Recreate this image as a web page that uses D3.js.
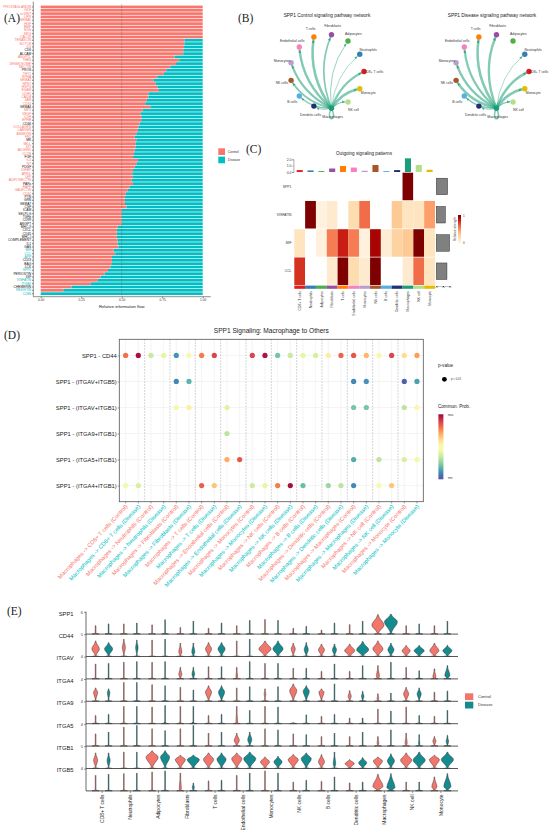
<!DOCTYPE html>
<html>
<head>
<meta charset="utf-8">
<script src="https://cdn.jsdelivr.net/npm/d3@7"></script>
<style>
  body { margin: 0; background: #fff; }
  svg { display: block; }
</style>
</head>
<body>
<script>
// ---------- data ----------

// (A) relative information flow, share of Control per pathway
const flowPathways = [
  "PROSTAGLANDIN","GDF","ncWNT","LIFR","SEMA5","HGF","BMP","EDN","NRG","CALCR",
  "TENASCIN","NOTCH","IL6","CD6","ALCAM","ANGPTL","THBS","DESMOSOME","NECTIN","PROS",
  "THY1","EPHA","SEMA3","NPR1","HSPG","ESAM","CDH5","CADM","JAM","CD34",
  "SEMA4","MPZ","VEGF","CDH","EPHB","CD46","COLLAGEN","LAMININ","ANNEXIN","FN1",
  "MK","SELL","KIT","ADGRE5","CLDN","FGF","IL4","NT","PDGF","IGFBP",
  "APRIL","LEP","ADIPONECTIN","PARs","BAFF","GALECTIN","CD40","PTN","GRN","SEMA7",
  "CSF","ICAM","SELPLG","TGFb","CD99","ANGPT","MHC-II","CXCL","CD45","MHC-I",
  "COMPLEMENT","IL1","GAS","MIF","CCL","APP","CD23","BAG","LCK","SPP1",
  "PERIOSTIN","IGF","VISFATIN","ITGB2","CHEMERIN","RESISTIN","CD86"
];
const flowControl = [
  1, 1, 1, 1, 1, 1, 1, 1, 1, 1,
  .887, .887, .885, .88, .88, .826, .855, .835, .8, .775,
  .76, .72, .695, .71, .72, .73, .665, .665, .655, .645,
  .68, .63, .615, .625, .62, .61, .605, .6, .59, .58,
  .59, .585, .585, .58, .575, .57, .6, .59, .58, .57,
  .565, .57, .56, .57, .55, .535, .525, .52, .52, .52,
  .53, .5, .5, .5, .5, .5, .475, .47, .47, .47,
  .475, .475, .48, .45, .46, .44, .44, .44, .43, .415,
  .395, .37, .35, .31, .19, .14, 0
];
// C = enriched in Control, D = enriched in Disease, N = not significant
const flowSignif = (
  "CCCCCCCCCC" + "CCCNNCCCCN" + "CCCCCCCCCC" + "NCCCCNCCCC" + "NCCCCNCCNC" +
  "CCCNCCCNNN" + "NNNNNNNNNN" + "NNNDDDNNND" + "NNDDNDD").split("");

// (B) / (C) cell groups
const cellTypes = ["CD8+ T cells", "Neutrophils", "Adipocytes", "Fibroblasts", "T cells",
  "Endothelial cells", "Monocytes", "NK cells", "B cells", "Dendritic cells",
  "Macrophages", "NK cell", "Monocyte"];
// SPP1 edge weight from Macrophages to each group
const spp1Control = [2.5, 0.8, 1.0, 2.0, 3.0, 2.8, 2.6, 2.2, 1.5, 1.0, 1.8, 1.2, 3.0];
const spp1Disease = [3.0, 0.8, 0, 2.8, 3.0, 2.6, 2.8, 2.8, 1.8, 1.0, 2.0, 1.3, 3.2];

// (C) outgoing signalling patterns
const patternPathways = ["SPP1", "VISFATIN", "MIF", "CCL"];
const patternStrength = [
  [0, 0, 0, 0, 0, 0, 0, 0, 0, 0, 1, 0, 0],
  [0, 1, .05, .1, 0, .2, .6, 0, 0, .3, .15, .15, .45],
  [.15, 0, .05, .55, .8, .55, .05, .9, .08, .25, .3, 1, .15],
  [.75, 0, 0, .1, 1, .2, .1, 1, 0, 0, .1, .6, .15]
];
const outgoingTotals = [0.3, 0.25, 0.15, 0.55, 0.95, 0.7, 0.2, 1.1, 0.15, 0.3, 2.15, 1.1, 0.35];
const pathwayTotals = [0.85, 0.68, 1.0, 0.8];

// (D) SPP1 ligand-receptor pairs, Macrophages -> others
const lrPairs = ["SPP1 - CD44", "SPP1 - (ITGAV+ITGB5)", "SPP1 - (ITGAV+ITGB1)",
  "SPP1 - (ITGA9+ITGB1)", "SPP1 - (ITGA5+ITGB1)", "SPP1 - (ITGA4+ITGB1)"];
const targetGroups = ["CD8+ T cells", "Neutrophils", "Fibroblasts", "T cells", "Endothelial cells",
  "Monocytes", "NK cells", "B cells", "Dendritic cells", "Macrophages", "NK cell", "Monocyte"];
const conditions = ["Control", "Disease"];
const _ = null;
// communication probability scaled 0 (min) .. 1 (max), columns = target x condition
const commProb = [
  [.8, .98, .35, .42, .12, .5, .78, .88, _, _, .88, .97, .22, .35, .42, .38, .55, .82, .85, .68, .48, .88, .6, .72],
  [_, _, _, _, .1, .18, _, _, _, _, _, _, _, _, _, _, _, _, .1, .12, _, _, .03, .14],
  [_, _, _, _, .45, .55, _, _, .4, _, _, _, _, _, _, _, _, _, .22, .22, _, _, .33, .52],
  [_, _, _, _, _, _, _, _, .33, _, _, _, _, _, _, _, _, _, _, _, _, _, _, _],
  [_, _, _, _, _, _, _, _, .7, .85, _, _, _, _, _, _, _, _, .16, _, .33, _, .38, .45],
  [.45, .38, _, _, _, _, .83, .65, _, _, .36, .42, .78, .98, .2, _, .28, .33, .1, _, .48, .65, _, _]
];

// (E) stacked violins: per gene, Control/Disease pairs for each cell group
const genes = ["SPP1", "CD44", "ITGAV", "ITGA4", "ITGA9", "ITGA5", "ITGB1", "ITGB5"];
const geneMax = [6, 5, 4, 4, 4, 4, 5, 4];
// top of violin (fraction of the row max)
const vlnTop = [
  [.38,.46, .46,.5, .42,.65, .3,.58, .26,.5, .38,.62, .66,.62, .26,.35, .18,.5, .43,.58, .88,.9, .38,.46, .38,.58],
  [.7,.63, .78,.74, .74,.78, .6,.6, .63,.63, .7,.78, .7,.7, .6,.63, .56,.56, .56,.68, .7,.6, .5,.5, .6,.5],
  [.67,.7, .75,.78, .75,.78, .52,.52, .55,.55, .52,.78, .7,.7, .48,.48, .34,.67, .34,.6, .6,.75, .52,.37, .45,.6],
  [.6,.56, .85,.85, .75,.7, .63,.51, .7,.7, .6,.66, .56,.66, .78,.7, .56,.78, .48,.45, .34,.37, .63,.6, .41,.46],
  [.37,.42, .78,.78, .75,.82, .78,.78, .37,.42, .78,.6, .78,.75, .05,.4, .33,.42, .25,.25, .66,.57, .75,.37, .33,.6],
  [.55,.63, .85,.93, .78,.7, .78,.93, .58,.63, .58,.63, .78,.73, .55,.52, .43,.58, .43,.63, .43,.73, .58,.52, .43,.48],
  [.7,.7, .74,.74, .8,.8, .6,.6, .7,.7, .7,.74, .52,.55, .63,.7, .63,.74, .4,.49, .52,.66, .7,.74, .6,.74],
  [.7,.75, .78,.8, .85,.9, .8,.35, .45,.48, .7,.8, .9,.8, .4,.48, .43,.63, .36,.4, .75,.78, .4,.4, .63,.78]
];
// widest half-width of the expressing bulk (px), 0 = only a spike
const vlnWidth = [
  [0,0, 0,0, 0,0, 0,0, 0,0, 0,0, 0,0, 0,0, 0,0, 0,0, 6,6.4, 0,0, 0,0],
  [3.7,4, 1.5,1.2, 0,0, 1.5,1.5, 3,3.5, 0,0, 6,5, 2,2, 3,2, 5,6, 5,3, 4,5, 4.5,4.5],
  [0,0, 0,0, 0,0, 1.5,1.3, 0,0, .8,0, 0,0, 0,0, 0,0, 0,0, 1.5,0, 0,0, 1.5,2.5],
  [2,1.2, 0,0, 0,0, 0,0, 3,3, 0,0, .8,0, 3.5,3, 2.5,0, 1.5,1.2, .8,0, 2.5,2, 0,0],
  [0,0, 0,0, 0,0, 0,0, 0,0, .8,0, 0,0, 0,0, 0,0, 0,0, 0,0, 0,0, 0,0],
  [0,0, 0,0, 0,0, 0,0, 0,0, 2.5,2, 0,0, 0,0, 0,0, 0,0, .8,0, 1,.6, 1.5,1.2],
  [2,1.5, 0,0, 6,4.5, 5,6, 5,4.5, 5,6, 4.5,4, 5,5, 3,1.2, 4.5,4, 4.5,3.5, 5.5,6, 5,6],
  [0,0, 0,0, 0,0, 1,1, 0,0, 0,0, 0,0, 0,0, 0,0, 0,0, 5,4, 0,0, 2.5,3.5]
];
// height of the widest point (fraction of the row max)
const vlnCenter = [
  [0,0, 0,0, 0,0, 0,0, 0,0, 0,0, 0,0, 0,0, 0,0, 0,0, .4,.55, 0,0, 0,0],
  [.34,.34, .4,.4, 0,0, .2,.2, .34,.34, 0,0, .34,.34, .34,.3, .3,.3, .26,.3, .34,.3, .26,.26, .26,.26],
  [0,0, 0,0, 0,0, .2,.2, 0,0, .1,0, 0,0, 0,0, 0,0, 0,0, .1,0, 0,0, .08,.15],
  [.41,.4, 0,0, 0,0, 0,0, .41,.41, 0,0, .33,0, .48,.45, .41,0, .22,.22, .12,0, .33,.33, 0,0],
  [0,0, 0,0, 0,0, 0,0, 0,0, .05,0, 0,0, 0,0, 0,0, 0,0, 0,0, 0,0, 0,0],
  [0,0, 0,0, 0,0, 0,0, 0,0, .25,.28, 0,0, 0,0, 0,0, 0,0, .13,0, .13,.1, .22,.2],
  [.37,.35, 0,0, .51,.51, .4,.4, .41,.41, .44,.44, .3,.3, .4,.44, .3,.2, .22,.25, .34,.34, .37,.37, .4,.4],
  [0,0, 0,0, 0,0, .1,.15, 0,0, 0,0, 0,0, 0,0, 0,0, 0,0, .2,.15, 0,0, .18,.2]
];

// ---------- canvas ----------

const svg = d3.select("body").append("svg")
  .attr("width", 550).attr("height", 834)
  .style("font-family", "'Liberation Sans', Arial, sans-serif");

const condColor = { Control: "#F8766D", Disease: "#00BFC4" };
const vlnColor = { Control: "#F3766C", Disease: "#168B8F" };
const cellColors = ["#E41A1C", "#377EB8", "#4DAF4A", "#984EA3", "#FF7F00", "#F781BF", "#BC9DCC",
  "#A65628", "#54B0E4", "#222F75", "#1B9E77", "#B2DF8A", "#E3BE00"];

// panel letters
[["(A)", 4, 22], ["(B)", 238, 22], ["(C)", 246, 153], ["(D)", 4, 339], ["(E)", 7, 615]]
  .forEach(([t, x, y]) => svg.append("text").attr("x", x).attr("y", y)
    .attr("font-family", "'Liberation Serif', 'DejaVu Serif', serif")
    .attr("font-size", 11.5).attr("fill", "#222").text(t));

// ----- (A) information flow -----

const ax = d3.scaleLinear().domain([0, 1]).range([40.7, 202.7]);
const ay = d3.scaleBand().domain(flowPathways).range([5.6, 295]).paddingInner(0.2);
const gA = svg.append("g");

gA.append("g").selectAll("rect").data(flowPathways).join("rect")
  .attr("x", ax(0)).attr("y", d => ay(d)).attr("height", ay.bandwidth())
  .attr("width", (d, i) => ax(flowControl[i]) - ax(0))
  .attr("fill", condColor.Control);
gA.append("g").selectAll("rect").data(flowPathways).join("rect")
  .attr("x", (d, i) => ax(flowControl[i])).attr("y", d => ay(d)).attr("height", ay.bandwidth())
  .attr("width", (d, i) => ax(1) - ax(flowControl[i]))
  .attr("fill", condColor.Disease);

gA.append("line")
  .attr("x1", ax(0.5)).attr("x2", ax(0.5)).attr("y1", 4).attr("y2", 296)
  .attr("stroke", "#555").attr("stroke-width", 0.4).attr("stroke-dasharray", "1.5,1");

const sigColor = { C: condColor.Control, N: "#111", D: "#14B8C0" };
const yAxA = gA.append("g").attr("transform", "translate(33.3,0)")
  .call(d3.axisLeft(ay).tickSize(1.3).tickSizeOuter(0).tickPadding(0.8));
yAxA.select(".domain").remove();
yAxA.selectAll(".tick line").attr("stroke", "#222").attr("stroke-width", 0.5);
yAxA.selectAll("text").attr("font-size", 3.3).attr("fill", (d, i) => sigColor[flowSignif[i]]);
gA.append("line").attr("x1", 33.3).attr("x2", 33.3).attr("y1", 1.5).attr("y2", 296.7)
  .attr("stroke", "#222").attr("stroke-width", 0.5);

const xAxA = gA.append("g").attr("transform", "translate(0,296.7)")
  .call(d3.axisBottom(ax).tickValues([0, .25, .5, .75, 1]).tickFormat(d3.format(".2f"))
    .tickSize(1.3).tickPadding(1));
xAxA.select(".domain").remove();
xAxA.selectAll(".tick line").attr("stroke", "#222").attr("stroke-width", 0.5);
xAxA.selectAll("text").attr("font-size", 3.2).attr("fill", "#333");
gA.append("line").attr("x1", 33.3).attr("x2", 210.8).attr("y1", 296.7).attr("y2", 296.7)
  .attr("stroke", "#222").attr("stroke-width", 0.5);
gA.append("text").attr("x", ax(0.5)).attr("y", 308).attr("text-anchor", "middle")
  .attr("font-size", 4.2).attr("fill", "#222").text("Relative information flow");

const legA = gA.append("g").attr("transform", "translate(218.3,148.3)");
conditions.forEach((c, i) => {
  legA.append("rect").attr("x", 0).attr("y", i * 8.3).attr("width", 6.7).attr("height", 6.7)
    .attr("fill", condColor[c]);
  legA.append("text").attr("x", 9.5).attr("y", i * 8.3 + 3.4).attr("dy", "0.35em")
    .attr("font-size", 3.4).attr("fill", "#333").text(c);
});

// ----- (B) SPP1 circle networks -----

const defs = svg.append("defs");
defs.append("marker").attr("id", "arrowB")
  .attr("viewBox", "0 -2 4 4").attr("refX", 3.6).attr("refY", 0)
  .attr("markerUnits", "userSpaceOnUse").attr("markerWidth", 3.2).attr("markerHeight", 3.2)
  .attr("orient", "auto")
  .append("path").attr("d", "M0,-1.7L4,0L0,1.7Z").attr("fill", "#1B9E77").attr("fill-opacity", 0.75);

const srcIdx = cellTypes.indexOf("Macrophages");

function drawNetwork(cx, title, weights) {
  const g = svg.append("g");
  const cy = 71.5, r = 37;
  const angle = d3.scaleLinear().domain([0, cellTypes.length]).range([0, 2 * Math.PI]);
  const pos = cellTypes.map((c, i) => [cx + r * Math.cos(angle(i)), cy - r * Math.sin(angle(i))]);
  const [sx, sy] = pos[srcIdx];

  g.append("text").attr("x", cx).attr("y", 17).attr("text-anchor", "middle")
    .attr("font-size", 4.8).attr("fill", "#222").text(title);

  const edges = weights.map((w, j) => ({ j, w })).filter(e => e.w > 0 && e.j !== srcIdx);
  g.append("g").selectAll("path").data(edges).join("path")
    .attr("d", e => {
      const [tx, ty] = pos[e.j];
      const dx = tx - sx, dy = ty - sy;
      const qx = (sx + tx) / 2 + dy * 0.2, qy = (sy + ty) / 2 - dx * 0.2;
      // stop the curve at the node rim so the arrow head stays visible
      const ex = tx - qx, ey = ty - qy, el = Math.hypot(ex, ey);
      return `M${sx},${sy}Q${qx},${qy} ${tx - ex / el * 3.2},${ty - ey / el * 3.2}`;
    })
    .attr("fill", "none").attr("stroke", "#1B9E77").attr("stroke-opacity", 0.55)
    .attr("stroke-width", e => e.w * 0.85).attr("stroke-linecap", "round")
    .attr("marker-end", "url(#arrowB)");

  // self loop on the sender
  g.append("path")
    .attr("d", `M${sx},${sy}C${sx - 7},${sy + 14} ${sx + 7},${sy + 14} ${sx},${sy}`)
    .attr("fill", "none").attr("stroke", "#1B9E77").attr("stroke-opacity", 0.55)
    .attr("stroke-width", weights[srcIdx] * 0.85);

  g.append("g").selectAll("circle").data(cellTypes).join("circle")
    .attr("cx", (d, i) => pos[i][0]).attr("cy", (d, i) => pos[i][1]).attr("r", 2.7)
    .attr("fill", (d, i) => cellColors[i]);

  g.append("g").selectAll("text").data(cellTypes).join("text")
    .attr("x", (d, i) => pos[i][0] + 9.5 * Math.cos(angle(i)))
    .attr("y", (d, i) => pos[i][1] - 9 * Math.sin(angle(i)))
    .attr("dy", "0.35em").attr("text-anchor", "middle")
    .attr("font-size", 3.4).attr("fill", "#333").text(d => d);
}

drawNetwork(327, "SPP1 Control signaling pathway network", spp1Control);
drawNetwork(492, "SPP1 Disease signaling pathway network", spp1Disease);

// ----- (C) outgoing signalling heatmap -----

const gC = svg.append("g");
const hx = d3.scaleBand().domain(cellTypes).range([294.3, 435]);
const hy = d3.scaleBand().domain(patternPathways).range([172.7, 285]).paddingInner(0.025);
const heatColor = d3.scaleSequential(d3.interpolateOrRd).domain([0, 1]);

gC.append("text").attr("x", 364).attr("y", 154.5).attr("text-anchor", "middle")
  .attr("font-size", 4.6).attr("fill", "#222").text("Outgoing signaling patterns");

patternPathways.forEach((p, i) => {
  gC.append("g").selectAll("rect").data(cellTypes).join("rect")
    .attr("x", d => hx(d)).attr("y", hy(p))
    .attr("width", hx.bandwidth()).attr("height", hy.bandwidth())
    .attr("fill", (d, j) => patternStrength[i][j] === 0 ? "#fff" : heatColor(patternStrength[i][j]));
});
gC.append("g").selectAll("text").data(patternPathways).join("text")
  .attr("x", 291.5).attr("y", d => hy(d) + hy.bandwidth() / 2).attr("dy", "0.35em")
  .attr("text-anchor", "end").attr("font-size", 3.4).attr("fill", "#333").text(d => d);

// cell group colour strip and labels
gC.append("g").selectAll("rect").data(cellTypes).join("rect")
  .attr("x", d => hx(d)).attr("y", 285.6).attr("width", hx.bandwidth()).attr("height", 3.2)
  .attr("fill", (d, i) => cellColors[i]);
gC.append("g").selectAll("text").data(cellTypes).join("text")
  .attr("transform", d => `translate(${hx(d) + hx.bandwidth() / 2},291) rotate(-90)`)
  .attr("dy", "0.35em").attr("text-anchor", "end")
  .attr("font-size", 3.4).attr("fill", "#333").text(d => d);

// column totals on top
const topY = d3.scaleLinear().domain([0, 2]).range([172, 159.3]);
gC.append("g").selectAll("rect").data(cellTypes).join("rect")
  .attr("x", d => hx(d) + hx.bandwidth() * 0.22).attr("width", hx.bandwidth() * 0.56)
  .attr("y", (d, i) => topY(outgoingTotals[i]))
  .attr("height", (d, i) => topY(0) - topY(outgoingTotals[i]))
  .attr("fill", (d, i) => cellColors[i]);
const topAx = gC.append("g").attr("transform", "translate(293.4,0)")
  .call(d3.axisLeft(topY).tickValues([0, 1, 2]).tickSize(1.2).tickPadding(0.8));
topAx.select(".domain").attr("stroke", "#333").attr("stroke-width", 0.4);
topAx.selectAll(".tick line").attr("stroke", "#333").attr("stroke-width", 0.4);
topAx.selectAll("text").attr("font-size", 3.4).attr("fill", "#333");

// row totals on the right
const rowX = d3.scaleLinear().domain([0, 1]).range([436.3, 449.6]);
gC.append("g").selectAll("rect").data(patternPathways).join("rect")
  .attr("x", rowX(0)).attr("y", d => hy(d) + hy.bandwidth() * 0.2)
  .attr("width", (d, i) => rowX(pathwayTotals[i]) - rowX(0)).attr("height", hy.bandwidth() * 0.6)
  .attr("fill", "#808080").attr("stroke", "#333").attr("stroke-width", 0.5);
const rowAx = gC.append("g").attr("transform", "translate(0,286)")
  .call(d3.axisBottom(rowX).ticks(3).tickSize(0.8).tickPadding(0.3));
rowAx.select(".domain").attr("stroke", "#333").attr("stroke-width", 0.3);
rowAx.selectAll("text").attr("font-size", 1.8).attr("fill", "#333");

// colour legend
const gradC = defs.append("linearGradient").attr("id", "gradC")
  .attr("x1", 0).attr("y1", 1).attr("x2", 0).attr("y2", 0);
d3.range(0, 1.01, 0.1).forEach(t => gradC.append("stop")
  .attr("offset", t).attr("stop-color", heatColor(t)));
gC.append("rect").attr("x", 458).attr("y", 215).attr("width", 3).attr("height", 28)
  .attr("fill", "url(#gradC)");
gC.append("text").attr("x", 463).attr("y", 216).attr("dy", "0.35em").attr("font-size", 3)
  .attr("fill", "#333").text("1");
gC.append("text").attr("x", 463).attr("y", 242.5).attr("dy", "0.35em").attr("font-size", 3)
  .attr("fill", "#333").text("0");
gC.append("text").attr("transform", "translate(455.5,229) rotate(-90)")
  .attr("text-anchor", "middle").attr("font-size", 3.2).attr("fill", "#333")
  .text("Relative strength");

// ----- (D) SPP1 bubble plot -----

const gD = svg.append("g");
const dCols = targetGroups.flatMap(t => conditions.map(c => ({ t, c })));
const dx = d3.scaleBand().domain(d3.range(dCols.length)).range([119.3, 423.3]);
const dy = d3.scalePoint().domain(lrPairs).range([339.3, 501.7]).padding(0.62);
const probColor = t => d3.interpolateSpectral(1 - t);
const dcx = i => dx(i) + dx.bandwidth() / 2;

gD.append("text").attr("x", (119.3 + 423.3) / 2).attr("y", 332.5).attr("text-anchor", "middle")
  .attr("font-size", 6.6).attr("fill", "#222").text("SPP1 Signaling: Macrophage to Others");

// grid
gD.append("g").selectAll("line").data(d3.range(dCols.length)).join("line")
  .attr("x1", dcx).attr("x2", dcx).attr("y1", 339.3).attr("y2", 501.7)
  .attr("stroke", "#e6e6e6").attr("stroke-width", 0.45);
gD.append("g").selectAll("line").data(lrPairs).join("line")
  .attr("x1", 119.3).attr("x2", 423.3).attr("y1", d => dy(d)).attr("y2", d => dy(d))
  .attr("stroke", "#e6e6e6").attr("stroke-width", 0.45);
gD.append("g").selectAll("line").data(d3.range(2, dCols.length, 2)).join("line")
  .attr("x1", d => dx(d)).attr("x2", d => dx(d)).attr("y1", 339.3).attr("y2", 501.7)
  .attr("stroke", "#999").attr("stroke-width", 0.5).attr("stroke-dasharray", "1.6,1.4");

lrPairs.forEach((p, i) => {
  gD.append("g").selectAll("circle")
    .data(commProb[i].map((v, j) => ({ v, j })).filter(d => d.v !== null))
    .join("circle")
    .attr("cx", d => dcx(d.j)).attr("cy", dy(p)).attr("r", 2.6)
    .attr("fill", d => probColor(d.v));
});

gD.append("rect").attr("x", 119.3).attr("y", 339.3).attr("width", 304).attr("height", 162.4)
  .attr("fill", "none").attr("stroke", "#555").attr("stroke-width", 0.8);

const yAxD = gD.append("g").attr("transform", "translate(119.3,0)")
  .call(d3.axisLeft(dy).tickSize(1.6).tickPadding(1));
yAxD.select(".domain").remove();
yAxD.selectAll(".tick line").attr("stroke", "#444").attr("stroke-width", 0.5);
yAxD.selectAll("text").attr("font-size", 5.8).attr("fill", "#222");

gD.append("g").selectAll("line").data(d3.range(dCols.length)).join("line")
  .attr("x1", dcx).attr("x2", dcx).attr("y1", 501.7).attr("y2", 503.4)
  .attr("stroke", "#444").attr("stroke-width", 0.5);
gD.append("g").selectAll("text").data(dCols).join("text")
  .attr("transform", (d, i) => `translate(${dcx(i) + 0.8},505.5) rotate(-47)`)
  .attr("dy", "0.35em").attr("text-anchor", "end")
  .attr("font-size", 5.7).attr("fill", d => condColor[d.c])
  .text(d => `Macrophages -> ${d.t} (${d.c})`);

// legends
gD.append("text").attr("x", 438).attr("y", 367).attr("font-size", 4.6).attr("fill", "#222")
  .text("p-value");
gD.append("circle").attr("cx", 444.4).attr("cy", 379.3).attr("r", 2.4).attr("fill", "#000");
gD.append("text").attr("x", 451).attr("y", 379.3).attr("dy", "0.35em").attr("font-size", 2.8)
  .attr("fill", "#333").text("p < 0.01");
gD.append("text").attr("x", 438).attr("y", 408).attr("font-size", 4.6).attr("fill", "#222")
  .text("Commun. Prob.");
const gradD = defs.append("linearGradient").attr("id", "gradD")
  .attr("x1", 0).attr("y1", 1).attr("x2", 0).attr("y2", 0);
d3.range(0, 1.01, 0.05).forEach(t => gradD.append("stop")
  .attr("offset", t).attr("stop-color", probColor(t)));
gD.append("rect").attr("x", 438.4).attr("y", 414.3).attr("width", 5).attr("height", 65)
  .attr("fill", "url(#gradD)");
gD.append("text").attr("x", 448).attr("y", 415.5).attr("dy", "0.35em").attr("font-size", 2.8)
  .attr("fill", "#333").text("max");
gD.append("text").attr("x", 448).attr("y", 478.5).attr("dy", "0.35em").attr("font-size", 2.8)
  .attr("fill", "#333").text("min");

// ----- (E) stacked violins -----

const gE = svg.append("g");
const ex = d3.scaleBand().domain(cellTypes).range([88, 455]);
const eInner = d3.scalePoint().domain(conditions).range([-6.5, 6.5]);
const ey = d3.scaleBand().domain(genes).range([611.7, 611.7 + 22.4 * genes.length]);
const eBottom = 611.7 + 22.4 * genes.length;

const violinArea = d3.area().curve(d3.curveCatmullRom)
  .y(d => d.y).x0(d => d.cx - d.hw).x1(d => d.cx + d.hw);

function violinOutline(cx, base, h, top, w, c) {
  const steps = 40;
  return d3.range(steps + 1).map(k => {
    const f = top * k / steps;
    let hw = 0.35;
    if (w > 0) {
      const sd = f < c ? Math.max(c / 2.4, 0.03) : Math.max((top - c) / 2.4, 0.03);
      hw = Math.max(hw, w * Math.exp(-0.5 * Math.pow((f - c) / sd, 2)));
    }
    // zero-inflated foot of the violin
    hw = Math.max(hw, 3.6 * Math.exp(-Math.pow(f / 0.025, 2)));
    if (k === steps) hw = 0.05;
    return { cx, hw, y: base - f * h };
  });
}

genes.forEach((gname, gi) => {
  const y0 = ey(gname), h = ey.bandwidth(), base = y0 + h;
  const row = gE.append("g");
  cellTypes.forEach((ct, ci) => {
    conditions.forEach((cond, k) => {
      const idx = ci * 2 + k;
      const cx = ex(ct) + ex.bandwidth() / 2 + eInner(cond);
      row.append("path")
        .attr("d", violinArea(violinOutline(cx, base, h, vlnTop[gi][idx], vlnWidth[gi][idx], vlnCenter[gi][idx])))
        .attr("fill", vlnColor[cond]).attr("stroke", "#222").attr("stroke-width", 0.45);
    });
  });
  row.append("line").attr("x1", 86).attr("x2", 458).attr("y1", base).attr("y2", base)
    .attr("stroke", "#444").attr("stroke-width", 0.9);
  row.append("line").attr("x1", 86).attr("x2", 86).attr("y1", y0).attr("y2", base)
    .attr("stroke", "#444").attr("stroke-width", 0.8);
  row.append("line").attr("x1", 84).attr("x2", 86).attr("y1", y0 + 0.6).attr("y2", y0 + 0.6)
    .attr("stroke", "#444").attr("stroke-width", 0.6);
  row.append("text").attr("x", 82.8).attr("y", y0 + 0.6).attr("dy", "0.35em")
    .attr("text-anchor", "end").attr("font-size", 3.8).attr("fill", "#333").text(geneMax[gi]);
  row.append("text").attr("x", 73.5).attr("y", y0 + 1.8).attr("dy", "0.35em")
    .attr("text-anchor", "end").attr("font-size", 5.8).attr("fill", "#222").text(gname);
});

gE.append("g").selectAll("line").data(cellTypes).join("line")
  .attr("x1", d => ex(d) + ex.bandwidth() / 2).attr("x2", d => ex(d) + ex.bandwidth() / 2)
  .attr("y1", eBottom).attr("y2", eBottom + 2).attr("stroke", "#444").attr("stroke-width", 0.6);
gE.append("g").selectAll("text").data(cellTypes).join("text")
  .attr("transform", d => `translate(${ex(d) + ex.bandwidth() / 2},${eBottom + 3.5}) rotate(-90)`)
  .attr("dy", "0.35em").attr("text-anchor", "end")
  .attr("font-size", 5).attr("fill", "#222").text(d => d);

const legE = gE.append("g").attr("transform", "translate(465,693.3)");
conditions.forEach((c, i) => {
  legE.append("rect").attr("x", 0).attr("y", i * 8.4).attr("width", 8.3).attr("height", 6.8)
    .attr("fill", vlnColor[c]);
  legE.append("text").attr("x", 13).attr("y", i * 8.4 + 3.4).attr("dy", "0.35em")
    .attr("font-size", 4).attr("fill", "#333").text(c);
});
</script>
</body>
</html>
